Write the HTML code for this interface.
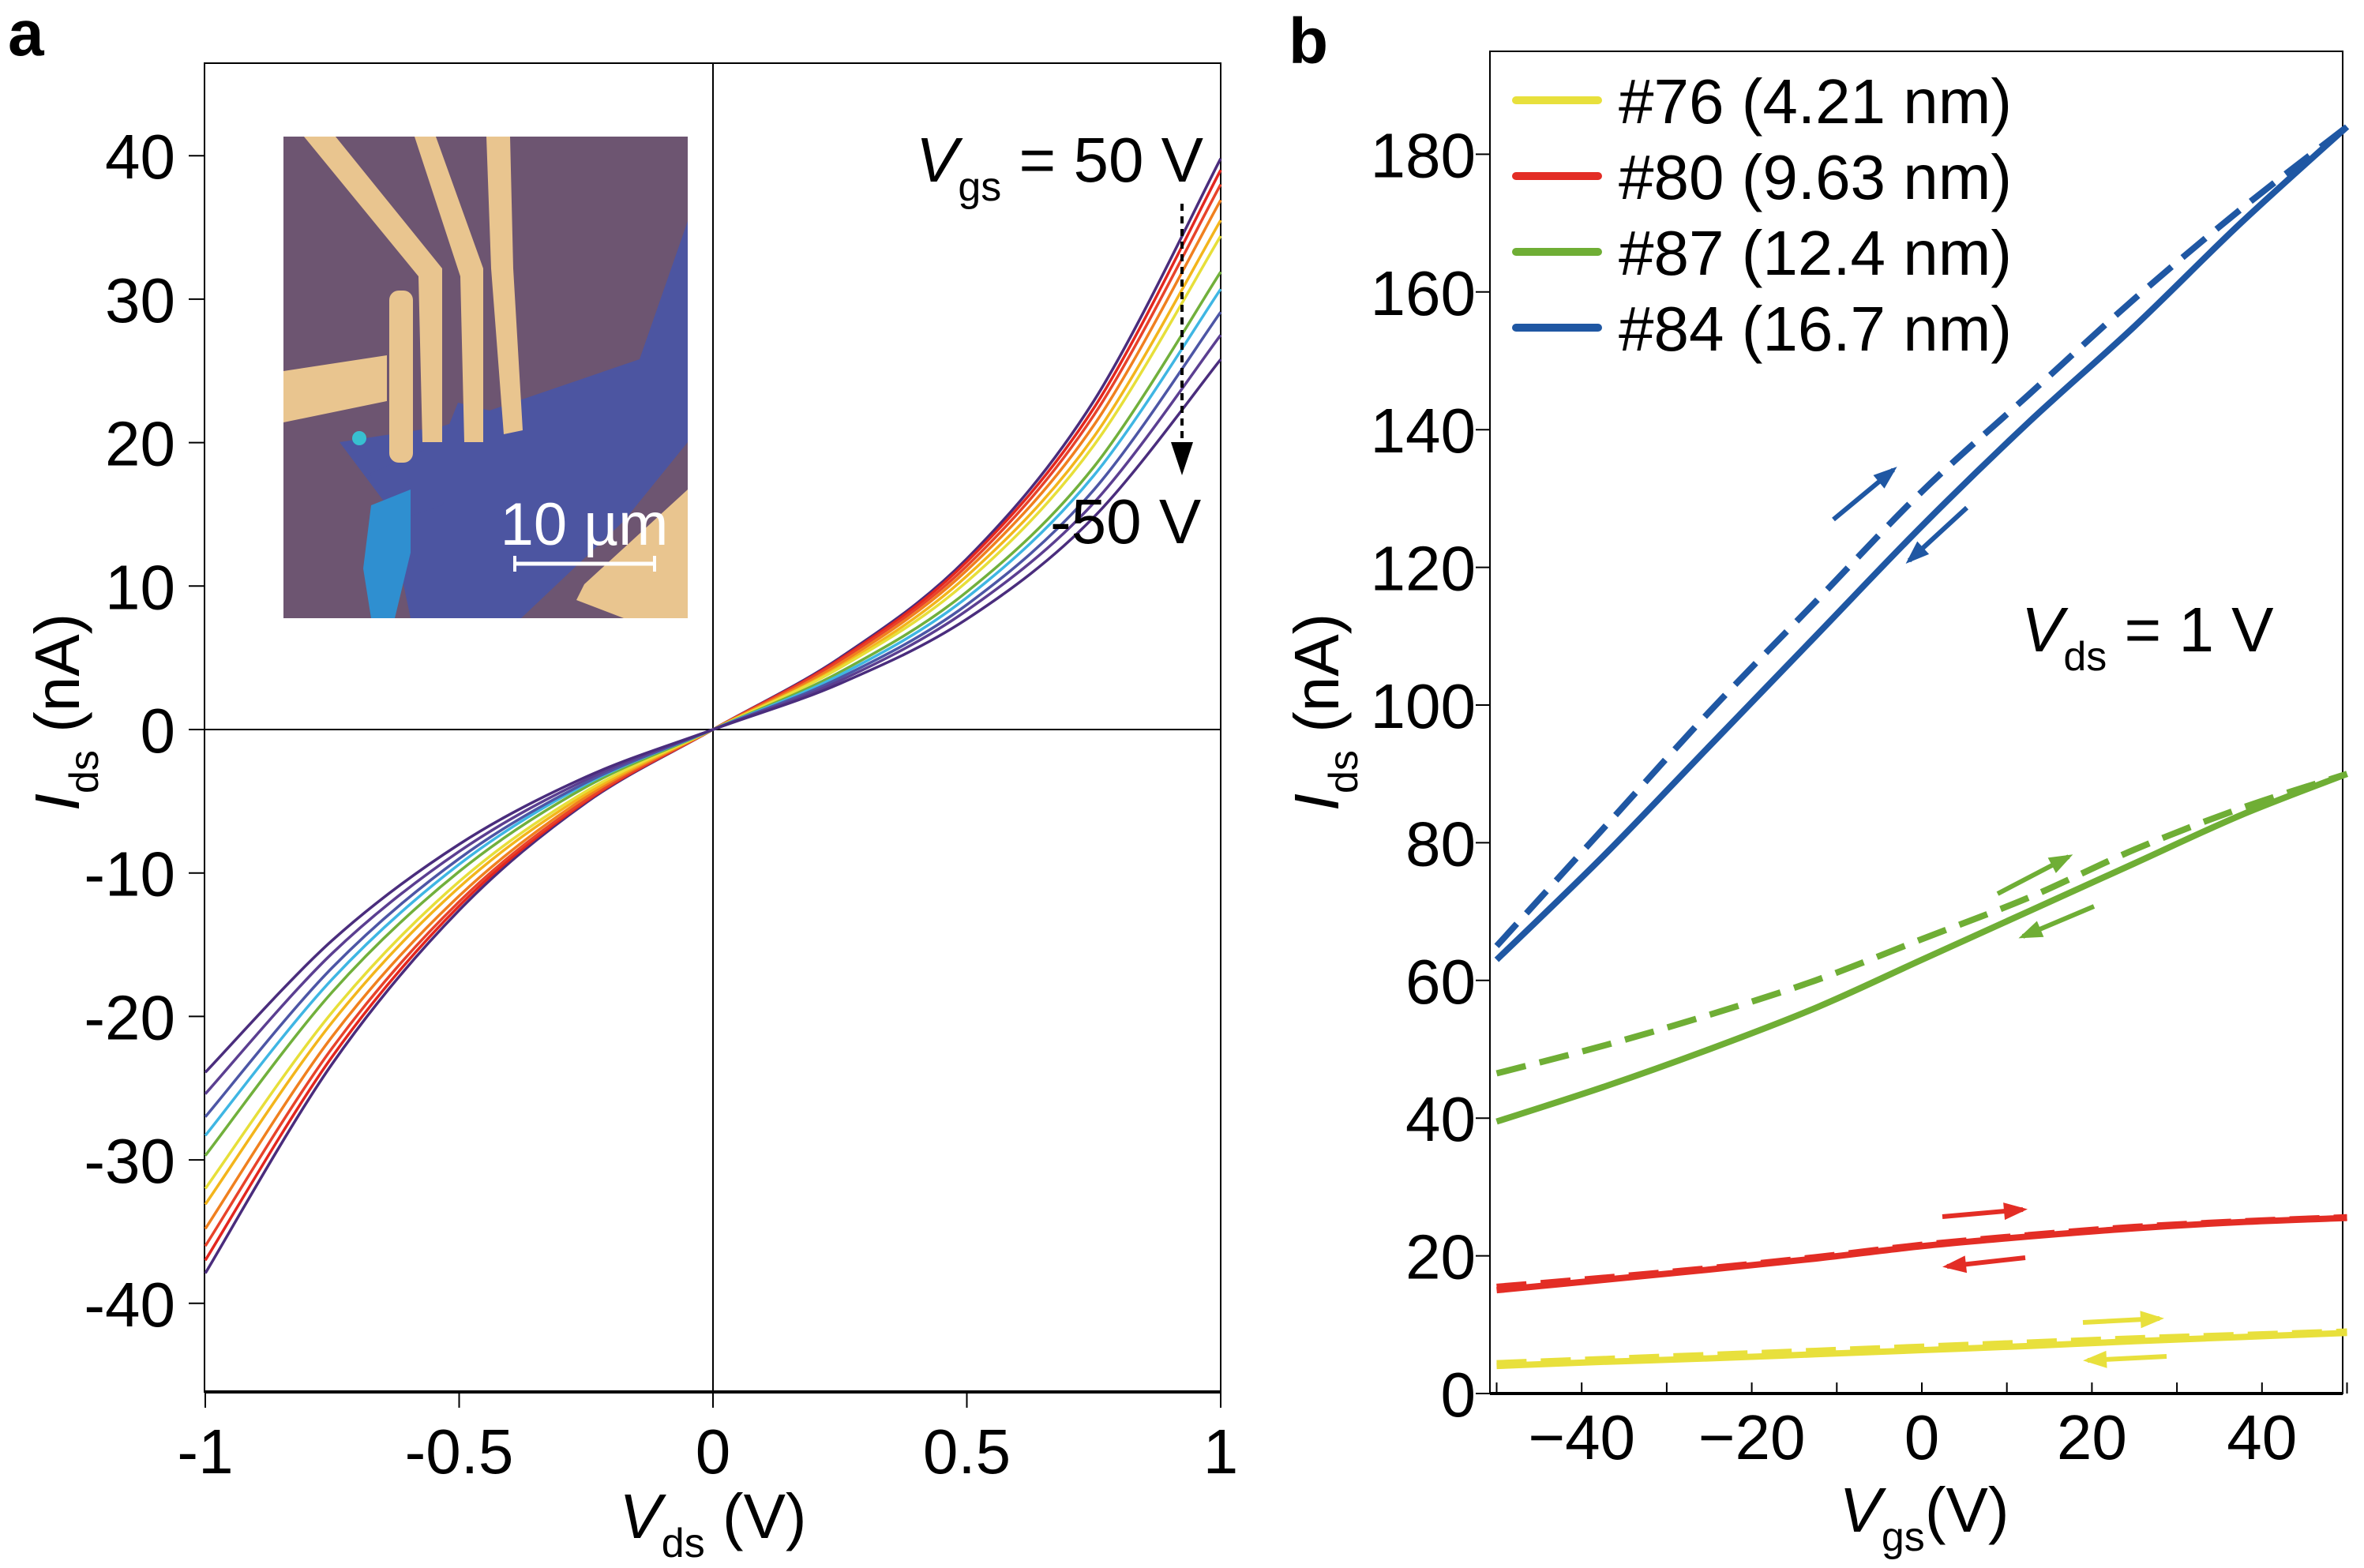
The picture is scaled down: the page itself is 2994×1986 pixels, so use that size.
<!DOCTYPE html>
<html><head><meta charset="utf-8"><style>
html,body{margin:0;padding:0;background:#fff}
svg{display:block;font-family:"Liberation Sans",Arial,sans-serif}
</style></head><body>
<svg id="fig" width="2994" height="1986" viewBox="0 0 2994 1986" xmlns="http://www.w3.org/2000/svg">
<g id="pa"></g>
<g id="pb"></g>
</svg>
<script>
// ---------- Panel a data ----------
const vdsPoints = [-1,-0.75,-0.5,-0.25,0,0.25,0.5,0.75,1];
const vgsLabels = ["50 V","40 V","30 V","20 V","10 V","0 V","-10 V","-20 V","-30 V","-40 V","-50 V"];
const idsCurves = [
 [-37.9,-23.3,-12.6,-5.1,0,5.0,11.9,22.9,39.8],
 [-37.0,-22.8,-12.3,-5.0,0,4.9,11.7,22.4,39.0],
 [-36.0,-22.2,-12.0,-4.9,0,4.8,11.4,21.9,38.0],
 [-34.8,-21.4,-11.6,-4.7,0,4.6,11.1,21.2,36.9],
 [-33.1,-20.4,-11.0,-4.5,0,4.4,10.7,20.4,35.5],
 [-32.0,-19.7,-10.6,-4.3,0,4.3,10.3,19.8,34.4],
 [-29.7,-18.3,-9.9,-4.0,0,4.0,9.6,18.3,31.9],
 [-28.3,-17.4,-9.4,-3.8,0,3.8,9.2,17.7,30.7],
 [-27.0,-16.6,-9.0,-3.7,0,3.6,8.7,16.7,29.1],
 [-25.4,-15.6,-8.5,-3.5,0,3.4,8.3,15.8,27.5],
 [-23.9,-14.7,-8.0,-3.3,0,3.2,7.7,14.8,25.8]
];
const curveColors = ["#4a2c7c","#e3261f","#e8432a","#f0801f","#f3b51c","#e7df3a","#71b03c","#3fb6e3","#4d56a5","#5b3f91","#4a2d7d"];
const aXTicks = [-1,-0.5,0,0.5,1];
const aXTickLabels = ["-1","-0.5","0","0.5","1"];
const aYTicks = [40,30,20,10,0,-10,-20,-30,-40];

// ---------- Panel b data ----------
const vgsPoints = [-50,-37.5,-25,-12.5,0,12.5,25,37.5,50];
const blueFwd = [65,82,99,115,131,145,159,172,184];
const blueRev = [63,78,94,110,126,141,155,170,184];
const greenFwd = [46.5,50.5,55,60,66,72,79,85,90];
const greenRev = [39.5,44.5,50,56,63,70,77,84,90];
const redFwd = [15.5,16.8,18.2,19.8,21.6,23.0,24.2,25.0,25.6];
const redRev = [15,16.5,18,19.6,21.4,22.8,24,24.9,25.5];
const yelFwd = [4.4,5.0,5.6,6.2,6.8,7.4,8.0,8.5,9.0];
const yelRev = [4.0,4.6,5.1,5.7,6.3,6.9,7.6,8.2,8.8];
const legendNames = ["#76 (4.21 nm)","#80 (9.63 nm)","#87 (12.4 nm)","#84 (16.7 nm)"];
const legendColors = ["#e8e03c","#e32d25","#6fae35","#1f57a3"];
const bXTicks = [-40,-20,0,20,40];
const bXTickLabels = ["\u221240","\u221220","0","20","40"];
const bXMinor = [-50,-40,-30,-20,-10,0,10,20,30,40,50];
const bYTicks = [0,20,40,60,80,100,120,140,160,180];

const NS="http://www.w3.org/2000/svg";
function mk(tag,attrs,parent){const e=document.createElementNS(NS,tag);for(const k in attrs)e.setAttribute(k,attrs[k]);parent.appendChild(e);return e;}
function smooth(pts){let d="M"+pts[0][0]+","+pts[0][1];for(let i=0;i<pts.length-1;i++){const p0=pts[Math.max(0,i-1)],p1=pts[i],p2=pts[i+1],p3=pts[Math.min(pts.length-1,i+2)];
const c1=[p1[0]+(p2[0]-p0[0])/6,p1[1]+(p2[1]-p0[1])/6],c2=[p2[0]-(p3[0]-p1[0])/6,p2[1]-(p3[1]-p1[1])/6];d+=" C"+c1[0]+","+c1[1]+" "+c2[0]+","+c2[1]+" "+p2[0]+","+p2[1];}return d;}
function txt(parent,x,y,s,opts){const t=mk("text",Object.assign({x:x,y:y,"font-size":80,fill:"#000"},opts||{}),parent);t.textContent=s;return t;}

// ===== Panel a =====
const pa=document.getElementById("pa");
const xa=v=>903+v*643, ya=i=>924-i*18.17;
const aL=259,aR=1546,aT=80,aB=1763;
const lblA=txt(pa,10,70,"a",{"font-weight":"bold","font-size":82});


const inset=mk("g",{},pa);


mk("rect",{x:359,y:173,width:512,height:610,fill:"#6d5571"},inset);
mk("polygon",{points:"620,520 810,455 871,280 871,560 790,660 660,783 520,783 490,640 430,560 560,540",fill:"#4c55a1"},inset);
mk("polygon",{points:"468,600 560,560 580,510 620,520 560,640 500,660",fill:"#4c55a1"},inset);
mk("polygon",{points:"470,640 520,620 520,700 500,783 470,783 460,720",fill:"#2f8fd0"},inset);
mk("circle",{cx:455,cy:555,r:9,fill:"#38c0d0"},inset);
const gold="#e9c58f";
mk("polygon",{points:"359,470 490,450 490,508 359,535",fill:gold},inset);
mk("rect",{x:493,y:368,width:30,height:218,rx:12,fill:gold},inset);
mk("polygon",{points:"385,173 425,173 560,340 560,560 535,560 530,350",fill:gold},inset);
mk("polygon",{points:"525,173 552,173 612,340 612,560 588,560 583,350",fill:gold},inset);
mk("polygon",{points:"616,173 646,173 650,340 662,545 638,550 622,340",fill:gold},inset);
mk("polygon",{points:"871,620 871,783 790,783 730,760 740,740",fill:gold},inset);
const sb=mk("g",{},pa);


mk("line",{x1:652,y1:714,x2:829,y2:714,stroke:"#fff","stroke-width":5},sb);
mk("line",{x1:652,y1:704,x2:652,y2:724,stroke:"#fff","stroke-width":4},sb);
mk("line",{x1:829,y1:704,x2:829,y2:724,stroke:"#fff","stroke-width":4},sb);
txt(sb,740,690,"10 \u00b5m",{fill:"#fff","text-anchor":"middle","font-size":76});
const fa=mk("rect",{x:aL,y:aT,width:aR-aL,height:aB-aT,fill:"none",stroke:"#000","stroke-width":2},pa);


mk("line",{x1:aL,y1:ya(0),x2:aR,y2:ya(0),stroke:"#000","stroke-width":2},pa);
mk("line",{x1:xa(0),y1:aT,x2:xa(0),y2:aB,stroke:"#000","stroke-width":2},pa);
mk("line",{x1:aL,y1:aB,x2:aR,y2:aB,stroke:"#000","stroke-width":4},pa);
aXTicks.forEach((v,i)=>{mk("line",{x1:xa(v),y1:aB,x2:xa(v),y2:aB+20,stroke:"#000","stroke-width":2},pa);
 const t=txt(pa,xa(v),1866,aXTickLabels[i],{"text-anchor":"middle"});
 
 });
aYTicks.forEach(v=>{mk("line",{x1:aL-20,y1:ya(v),x2:aL,y2:ya(v),stroke:"#000","stroke-width":2},pa);
 const t=txt(pa,222,ya(v)+29,String(v),{"text-anchor":"end"});
 
 });
const curvesG=mk("g",{fill:"none","stroke-width":3.5},pa);
idsCurves.forEach((row,ci)=>{const p=mk("path",{d:smooth(row.map((v,j)=>[xa(vdsPoints[j]),ya(v)])),stroke:curveColors[ci]},curvesG);
 
 });
const ann=txt(pa,1160,230,"",{});


ann.innerHTML='<tspan font-style="italic">V</tspan><tspan font-size="52" dy="24">gs</tspan><tspan dy="-24"> = 50 V</tspan>';
const ann2=txt(pa,1330,688,"-50 V",{});


const da=mk("line",{x1:1497,y1:258,x2:1497,y2:560,stroke:"#000","stroke-width":4,"stroke-dasharray":"9,7"},pa);


mk("polygon",{points:"1483,560 1511,560 1497,602",fill:"#000"},pa);
const xta=txt(pa,903,1948,"",{"text-anchor":"middle"});


xta.innerHTML='<tspan font-style="italic">V</tspan><tspan font-size="52" dy="24">ds</tspan><tspan dy="-24"> (V)</tspan>';
const yta=txt(pa,0,0,"",{"text-anchor":"middle",transform:"translate(100,902) rotate(-90)"});


yta.innerHTML='<tspan font-style="italic">I</tspan><tspan font-size="52" dy="24">ds</tspan><tspan dy="-24"> (nA)</tspan>';

// ===== Panel b =====
const pb=document.getElementById("pb");
const xb=v=>2434+v*10.77, yb=i=>1765-i*8.72;
const bL=1887,bR=2967,bT=65,bB=1765;
const lblB=txt(pb,1632,80,"b",{"font-weight":"bold","font-size":82});


const fb=mk("rect",{x:bL,y:bT,width:bR-bL,height:bB-bT,fill:"none",stroke:"#000","stroke-width":2},pb);


mk("line",{x1:bL,y1:bB,x2:bR,y2:bB,stroke:"#000","stroke-width":4},pb);
bXMinor.forEach(v=>mk("line",{x1:xb(v),y1:bB,x2:xb(v),y2:bB-14,stroke:"#000","stroke-width":2},pb));
bXTicks.forEach((v,i)=>{const t=txt(pb,xb(v),1848,bXTickLabels[i],{"text-anchor":"middle"});
 
 });
bYTicks.forEach(v=>{mk("line",{x1:bL-18,y1:yb(v),x2:bL,y2:yb(v),stroke:"#000","stroke-width":2},pb);
 const t=txt(pb,1869,yb(v)+29,String(v),{"text-anchor":"end"});
 
 });
const series=[["yellow",yelFwd,yelRev,legendColors[0]],["red",redFwd,redRev,legendColors[1]],["green",greenFwd,greenRev,legendColors[2]],["blue",blueFwd,blueRev,legendColors[3]]];
series.forEach(s=>{
 const pf=mk("path",{d:smooth(s[1].map((v,j)=>[xb(vgsPoints[j]),yb(v)])),stroke:s[3],"stroke-width":8,fill:"none","stroke-dasharray":"38,18"},pb);
 
 
 const pr=mk("path",{d:smooth(s[2].map((v,j)=>[xb(vgsPoints[j]),yb(v)])),stroke:s[3],"stroke-width":8,fill:"none"},pb);
 
 
});
function arrow(x1,y1,x2,y2,c){const g=mk("g",{},pb);mk("line",{x1:x1,y1:y1,x2:x2,y2:y2,stroke:c,"stroke-width":6},g);
 const a=Math.atan2(y2-y1,x2-x1),L=24,W=11;const bx=x2-L*Math.cos(a),by=y2-L*Math.sin(a);
 mk("polygon",{points:`${x2+6*Math.cos(a)},${y2+6*Math.sin(a)} ${bx-W*Math.sin(a)},${by+W*Math.cos(a)} ${bx+W*Math.sin(a)},${by-W*Math.cos(a)}`,fill:c},g);return g;}
[[2322,658,2398,595,3],[2491,643,2418,710,3],[2530,1132,2620,1085,2],[2652,1148,2562,1186,2],[2460,1541,2562,1532,1],[2565,1593,2466,1604,1],[2638,1675,2735,1670,0],[2744,1718,2644,1723,0]].forEach(a=>{
 const g=arrow(a[0],a[1],a[2],a[3],legendColors[a[4]]);
 
 });
const lg=mk("g",{},pb);


legendNames.forEach((n,i)=>{const y=127+i*96;
 const e=mk("g",{},lg);
 
 
 mk("line",{x1:1920,y1:y,x2:2024,y2:y,stroke:legendColors[i],"stroke-width":10,"stroke-linecap":"round"},e);
 txt(e,2050,y+29,n,{});});
const vds=txt(pb,2560,825,"",{});


vds.innerHTML='<tspan font-style="italic">V</tspan><tspan font-size="52" dy="24">ds</tspan><tspan dy="-24"> = 1 V</tspan>';
const xtb=txt(pb,2437,1940,"",{"text-anchor":"middle"});


xtb.innerHTML='<tspan font-style="italic">V</tspan><tspan font-size="52" dy="24">gs</tspan><tspan dy="-24">(V)</tspan>';
const ytb=txt(pb,0,0,"",{"text-anchor":"middle",transform:"translate(1695,902) rotate(-90)"});


ytb.innerHTML='<tspan font-style="italic">I</tspan><tspan font-size="52" dy="24">ds</tspan><tspan dy="-24"> (nA)</tspan>';
</script>
</body></html>
